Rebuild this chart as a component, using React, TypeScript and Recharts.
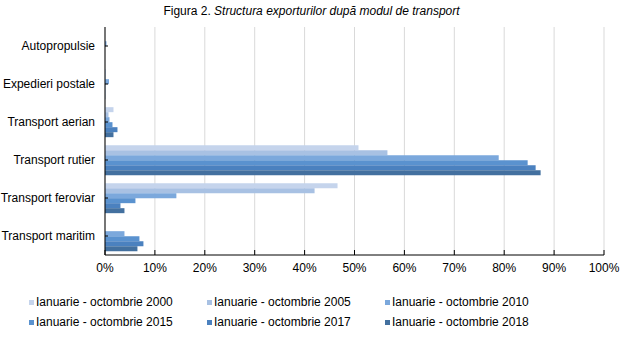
import { BarChart, Bar, XAxis, YAxis, CartesianGrid } from 'recharts';

const categories = [
  'Autopropulsie',
  'Expedieri postale',
  'Transport aerian',
  'Transport rutier',
  'Transport feroviar',
  'Transport maritim',
];

const seriesNames = [
  'Ianuarie - octombrie 2000',
  'Ianuarie - octombrie 2005',
  'Ianuarie - octombrie 2010',
  'Ianuarie - octombrie 2015',
  'Ianuarie - octombrie 2017',
  'Ianuarie - octombrie 2018',
];

const s2000 = [0, 0.2, 1.7, 50.8, 46.6, 0];
const s2005 = [0, 0.1, 0.7, 56.6, 42.0, 0];
const s2010 = [0.3, 0.8, 0.9, 78.9, 14.3, 3.9];
const s2015 = [0, 0.05, 1.5, 84.7, 6.1, 6.9];
const s2017 = [0, 0.05, 2.5, 86.3, 3.1, 7.7];
const s2018 = [0, 0.05, 1.7, 87.3, 3.9, 6.5];

const xTicks = [0, 10, 20, 30, 40, 50, 60, 70, 80, 90, 100];

const colors = ['#c5d4ec', '#a8c1e3', '#7ba8dc', '#5a92cf', '#4b81bf', '#43709f'];

const allSeries = [s2000, s2005, s2010, s2015, s2017, s2018];

const data = categories.map((name, i) => {
  const row: Record<string, string | number> = { name };
  allSeries.forEach((s, k) => {
    row['s' + k] = s[i];
  });
  return row;
});

const font = '"Liberation Sans", Arial, sans-serif';

// plain label, no wrapping, right aligned against the axis
const CatTick = (props: any) => {
  const { x, y, payload } = props;
  return (
    <text x={x} y={y} dy={4} textAnchor="end" fill="#000" fontSize={12} fontFamily={font}>
      {payload.value}
    </text>
  );
};

export default function App() {
  return (
    <div style={{ position: 'absolute', top: 0, left: 0, width: 623, height: 338, fontFamily: font, background: '#fff' }}>
      <BarChart
        width={623}
        height={338}
        data={data}
        layout="vertical"
        margin={{ top: 27, right: 19, bottom: 53, left: 0 }}
        barCategoryGap="11%"
        barGap={0}
        style={{ overflow: 'visible' }}
      >
        <text x={311.5} y={15} textAnchor="middle" fontSize={12} fontFamily={font} fill="#000">
          Figura 2. <tspan fontStyle="italic">Structura exporturilor după modul de transport</tspan>
        </text>
        <CartesianGrid horizontal={false} stroke="#d9d9d9" />
        <XAxis
          type="number"
          domain={[0, 100]}
          ticks={xTicks}
          tickFormatter={(v) => `${v}%`}
          axisLine={{ stroke: '#000' }}
          tickLine={{ stroke: '#000' }}
          tickSize={-5}
          tickMargin={13}
          height={30}
          tick={{ fill: '#000', fontSize: 12, fontFamily: font }}
          interval={0}
        />
        <YAxis
          type="category"
          dataKey="name"
          width={105}
          axisLine={{ stroke: '#000' }}
          tickLine={{ stroke: '#000' }}
          tickSize={-3}
          tickMargin={13}
          tick={<CatTick />}
          interval={0}
        />
        {seriesNames.map((n, k) => (
          <Bar key={n} dataKey={'s' + k} name={n} fill={colors[k]} isAnimationActive={false} />
        ))}
      </BarChart>
      {seriesNames.map((n, k) => (
        <div
          key={n}
          style={{
            position: 'absolute',
            left: 29 + (k % 3) * 178,
            top: 295 + Math.floor(k / 3) * 20,
            fontSize: 12,
            color: '#000',
            display: 'flex',
            alignItems: 'center',
            whiteSpace: 'nowrap',
          }}
        >
          <span style={{ display: 'inline-block', width: 5, height: 5, background: colors[k], marginRight: 2 }} />
          {n}
        </div>
      ))}
    </div>
  );
}
